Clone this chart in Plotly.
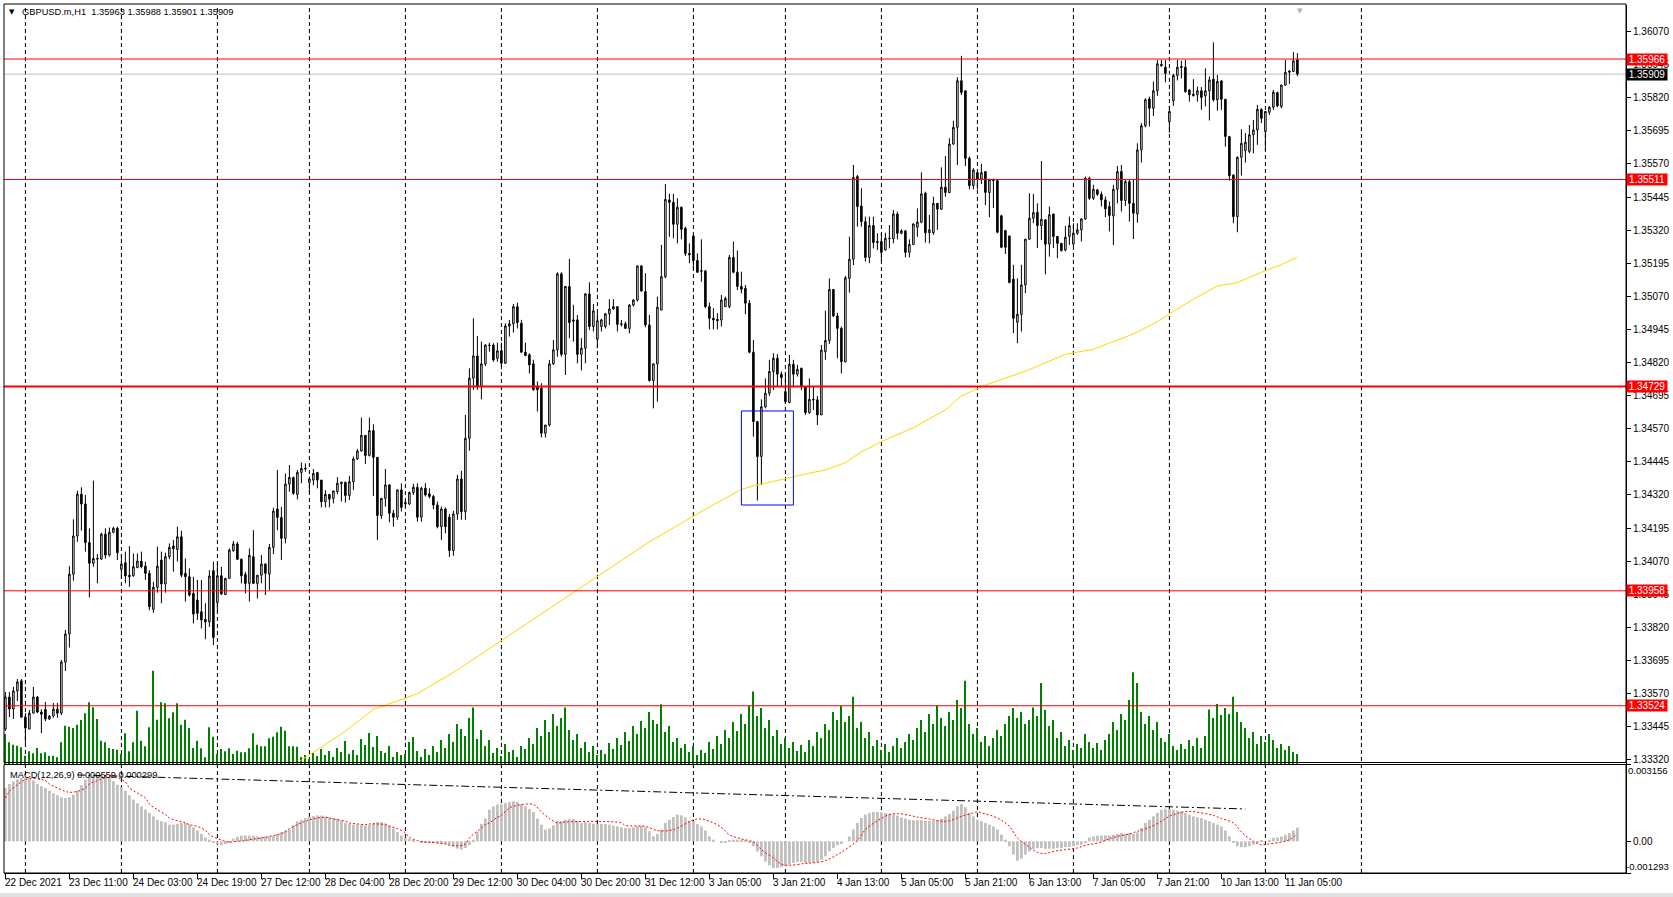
import plotly.graph_objects as go

# ---------------- data ----------------
opens = [
1.33436,1.33557,1.33512,1.33580,1.33618,1.33481,1.33436,1.33496,1.33557,1.33500,
1.33510,1.33474,1.33485,1.33511,1.33496,1.33689,1.33795,1.34021,1.34165,1.34323,
1.34286,1.34140,1.34062,1.34080,1.34078,1.34172,1.34093,1.34179,1.34194,1.34039,
1.34064,1.34017,1.34015,1.34046,1.34070,1.34051,1.34024,1.33888,1.33971,1.34074,
1.33984,1.34087,1.34127,1.34114,1.34162,1.34024,1.34011,1.33948,1.33923,1.33879,
1.33850,1.33841,1.34034,1.33914,1.34015,1.33944,1.34005,1.34109,1.34135,1.34077,
1.34020,1.33986,1.34087,1.33986,1.34017,1.34059,1.34021,1.34122,1.34267,1.34235,
1.34156,1.34361,1.34386,1.34322,1.34405,1.34418,1.34367,1.34376,1.34405,1.34376,
1.34294,1.34322,1.34307,1.34333,1.34362,1.34368,1.34318,1.34370,1.34456,1.34486,
1.34545,1.34469,1.34563,1.34462,1.34242,1.34307,1.34358,1.34251,1.34236,1.34339,
1.34286,1.34286,1.34329,1.34349,1.34236,1.34345,1.34324,1.34314,1.34282,1.34200,
1.34267,1.34236,1.34110,1.34248,1.34380,1.34257,1.34534,1.34761,1.34845,1.34729,
1.34815,1.34886,1.34886,1.34836,1.34865,1.34817,1.34958,1.34966,1.35031,1.34968,
1.34859,1.34849,1.34815,1.34729,1.34723,1.34553,1.34584,1.34815,1.34868,1.35155,
1.34851,1.35107,1.34981,1.34981,1.34851,1.34874,1.35079,1.34956,1.34908,1.34956,
1.34956,1.35004,1.35022,1.35031,1.34963,1.34966,1.34949,1.35037,1.35056,1.35185,
1.35088,1.34962,1.34752,1.34815,1.35018,1.35144,1.35434,1.35425,1.35342,1.35406,
1.35327,1.35232,1.35298,1.35205,1.35167,1.35166,1.35031,1.34987,1.34983,1.34981,
1.35031,1.35031,1.35217,1.35161,1.35107,1.35100,1.35044,1.34859,1.34597,1.34465,
1.34653,1.34704,1.34786,1.34836,1.34776,1.34710,1.34669,1.34813,1.34776,1.34798,
1.34729,1.34631,1.34681,1.34679,1.34622,1.34861,1.34903,1.35096,1.34996,1.34949,
1.34823,1.35138,1.35210,1.35522,1.35411,1.35352,1.35217,1.35337,1.35273,1.35277,
1.35245,1.35287,1.35287,1.35381,1.35308,1.35317,1.35236,1.35266,1.35331,1.35350,
1.35459,1.35310,1.35310,1.35421,1.35399,1.35482,1.35462,1.35645,1.35708,1.35884,
1.35846,1.35591,1.35488,1.35537,1.35512,1.35541,1.35462,1.35512,1.35507,1.35374,
1.35318,1.35298,1.35135,1.34972,1.35002,1.35113,1.35286,1.35365,1.35387,1.35337,
1.35359,1.35267,1.35381,1.35296,1.35270,1.35245,1.35296,1.35267,1.35308,1.35321,
1.35362,1.35516,1.35440,1.35472,1.35455,1.35434,1.35409,1.35374,1.35474,1.35541,
1.35432,1.35503,1.35421,1.35381,1.35623,1.35714,1.35815,1.35780,1.35846,1.35940,
1.35935,1.35730,1.35808,1.35904,1.35938,1.35935,1.35849,1.35833,1.35831,1.35846,
1.35827,1.35846,1.35890,1.35812,1.35883,1.35814,1.35673,1.35528,1.35371,1.35595,
1.35620,1.35617,1.35680,1.35698,1.35776,1.35692,1.35765,1.35784,1.35839,1.35787,
1.35868,1.35916,1.35919,1.35963]

highs = [
1.33576,1.33576,1.33595,1.33625,1.33625,1.33496,1.33508,1.33595,1.33561,1.33511,
1.33538,1.33489,1.33534,1.33534,1.33697,1.33810,1.34051,1.34228,1.34336,1.34349,
1.34320,1.34194,1.34374,1.34097,1.34177,1.34194,1.34197,1.34200,1.34200,1.34093,
1.34106,1.34127,1.34099,1.34099,1.34106,1.34068,1.34036,1.33992,1.34125,1.34106,
1.34102,1.34137,1.34150,1.34200,1.34185,1.34080,1.34043,1.34011,1.33999,1.33999,
1.33911,1.34036,1.34068,1.34062,1.34049,1.34005,1.34118,1.34146,1.34143,1.34080,
1.34030,1.34118,1.34187,1.34017,1.34093,1.34062,1.34135,1.34272,1.34414,1.34275,
1.34401,1.34433,1.34389,1.34414,1.34443,1.34439,1.34389,1.34418,1.34405,1.34376,
1.34338,1.34322,1.34335,1.34387,1.34370,1.34370,1.34392,1.34465,1.34494,1.34612,
1.34545,1.34612,1.34587,1.34462,1.34307,1.34418,1.34358,1.34263,1.34339,1.34364,
1.34301,1.34333,1.34362,1.34364,1.34351,1.34364,1.34345,1.34320,1.34295,1.34276,
1.34273,1.34248,1.34260,1.34396,1.34411,1.34622,1.34798,1.34987,1.34920,1.34899,
1.34889,1.34895,1.34893,1.34895,1.34895,1.34968,1.34981,1.35041,1.35046,1.34981,
1.34895,1.34855,1.34830,1.34748,1.34742,1.34584,1.34830,1.34905,1.35161,1.35161,
1.35109,1.35211,1.35038,1.34999,1.34912,1.35082,1.35123,1.35041,1.35009,1.34985,
1.35006,1.35059,1.35059,1.35031,1.34981,1.34975,1.35041,1.35059,1.35185,1.35185,
1.35157,1.35000,1.34815,1.35069,1.35264,1.35494,1.35457,1.35457,1.35440,1.35409,
1.35333,1.35270,1.35298,1.35232,1.35285,1.35170,1.35047,1.35025,1.35006,1.35075,
1.35069,1.35226,1.35277,1.35243,1.35163,1.35113,1.35056,1.34905,1.34597,1.34681,
1.34760,1.34830,1.34855,1.34852,1.34786,1.34779,1.34849,1.34830,1.34811,1.34801,
1.34729,1.34760,1.34729,1.34694,1.34886,1.35016,1.35138,1.35096,1.35008,1.34956,
1.35147,1.35295,1.35566,1.35528,1.35478,1.35371,1.35371,1.35371,1.35308,1.35308,
1.35310,1.35339,1.35396,1.35390,1.35323,1.35321,1.35285,1.35346,1.35402,1.35538,
1.35465,1.35377,1.35446,1.35421,1.35557,1.35600,1.35667,1.35733,1.35897,1.35978,
1.35846,1.35598,1.35554,1.35537,1.35570,1.35541,1.35512,1.35512,1.35507,1.35378,
1.35321,1.35298,1.35189,1.35138,1.35189,1.35286,1.35459,1.35457,1.35421,1.35581,
1.35359,1.35409,1.35381,1.35298,1.35270,1.35336,1.35371,1.35346,1.35346,1.35365,
1.35522,1.35522,1.35491,1.35474,1.35466,1.35447,1.35428,1.35491,1.35562,1.35566,
1.35510,1.35510,1.35510,1.35648,1.35724,1.35818,1.35824,1.35881,1.35963,1.35963,
1.35963,1.35789,1.35910,1.35963,1.35960,1.35963,1.35852,1.35890,1.35862,1.35860,
1.35931,1.35900,1.36029,1.35906,1.35887,1.35814,1.35676,1.35531,1.35598,1.35701,
1.35686,1.35717,1.35736,1.35793,1.35780,1.35770,1.35789,1.35849,1.35843,1.35868,
1.35963,1.35921,1.35992,1.35988]

lows = [
1.33429,1.33481,1.33474,1.33542,1.33478,1.33383,1.33436,1.33496,1.33496,1.33421,
1.33466,1.33470,1.33478,1.33478,1.33489,1.33655,1.33744,1.33996,1.34143,1.34185,
1.34106,1.33933,1.34049,1.33986,1.34074,1.34080,1.34087,1.34175,1.34074,1.34005,
1.33986,1.33973,1.34011,1.34043,1.34043,1.33999,1.33885,1.33875,1.33951,1.33911,
1.33951,1.34077,1.34030,1.34068,1.34009,1.33917,1.33936,1.33835,1.33848,1.33816,
1.33775,1.33822,1.33753,1.33879,1.33942,1.33942,1.34005,1.34106,1.34074,1.33986,
1.33948,1.33917,1.33986,1.33929,1.33986,1.33942,1.33961,1.34097,1.34187,1.34074,
1.34137,1.34332,1.34320,1.34303,1.34364,1.34408,1.34326,1.34357,1.34345,1.34273,
1.34273,1.34273,1.34288,1.34323,1.34295,1.34291,1.34301,1.34339,1.34452,1.34484,
1.34437,1.34465,1.34316,1.34150,1.34229,1.34276,1.34217,1.34200,1.34226,1.34257,
1.34276,1.34282,1.34320,1.34219,1.34219,1.34314,1.34307,1.34266,1.34194,1.34150,
1.34175,1.34086,1.34090,1.34226,1.34226,1.34226,1.34487,1.34717,1.34717,1.34681,
1.34807,1.34861,1.34823,1.34823,1.34805,1.34815,1.34918,1.34933,1.34949,1.34857,
1.34845,1.34779,1.34714,1.34635,1.34537,1.34537,1.34578,1.34811,1.34842,1.34842,
1.34773,1.34912,1.34899,1.34817,1.34790,1.34817,1.34943,1.34937,1.34874,1.34937,
1.34949,1.34962,1.35019,1.34937,1.34956,1.34947,1.34930,1.35031,1.35050,1.35088,
1.34953,1.34748,1.34647,1.34672,1.35018,1.35138,1.35295,1.35289,1.35270,1.35285,
1.35222,1.35195,1.35170,1.35159,1.35125,1.35025,1.34945,1.34945,1.34945,1.34956,
1.35031,1.35025,1.35157,1.35094,1.35081,1.35003,1.34855,1.34540,1.34299,1.34358,
1.34647,1.34694,1.34716,1.34729,1.34729,1.34666,1.34666,1.34726,1.34767,1.34716,
1.34622,1.34626,1.34641,1.34584,1.34622,1.34830,1.34890,1.34991,1.34836,1.34779,
1.34820,1.35084,1.35188,1.35333,1.35333,1.35201,1.35195,1.35251,1.35245,1.35205,
1.35243,1.35251,1.35270,1.35285,1.35304,1.35217,1.35217,1.35264,1.35295,1.35346,
1.35273,1.35270,1.35302,1.35321,1.35396,1.35446,1.35459,1.35642,1.35566,1.35830,
1.35562,1.35474,1.35474,1.35474,1.35494,1.35415,1.35369,1.35403,1.35308,1.35252,
1.35230,1.35119,1.34931,1.34893,1.34937,1.35082,1.35283,1.35346,1.35252,1.35283,
1.35153,1.35220,1.35252,1.35214,1.35239,1.35239,1.35264,1.35260,1.35302,1.35277,
1.35359,1.35434,1.35434,1.35449,1.35409,1.35369,1.35315,1.35264,1.35421,1.35390,
1.35411,1.35352,1.35286,1.35348,1.35575,1.35708,1.35711,1.35751,1.35827,1.35938,
1.35878,1.35688,1.35789,1.35885,1.35893,1.35839,1.35805,1.35824,1.35805,1.35774,
1.35787,1.35734,1.35805,1.35771,1.35774,1.35635,1.35507,1.35346,1.35312,1.35526,
1.35575,1.35610,1.35610,1.35642,1.35724,1.35623,1.35755,1.35774,1.35784,1.35780,
1.35865,1.35872,1.35919,1.35901]

closes = [
1.33557,1.33512,1.33580,1.33614,1.33481,1.33440,1.33496,1.33557,1.33500,1.33492,
1.33474,1.33485,1.33511,1.33496,1.33689,1.33795,1.34021,1.34165,1.34323,1.34286,
1.34140,1.34062,1.34080,1.34078,1.34172,1.34093,1.34179,1.34194,1.34102,1.34059,
1.34014,1.34011,1.34049,1.34070,1.34049,1.34024,1.33898,1.33971,1.34051,1.33984,
1.34087,1.34122,1.34117,1.34162,1.34017,1.34011,1.33942,1.33870,1.33873,1.33848,
1.33841,1.34014,1.33782,1.34015,1.33946,1.34005,1.34112,1.34135,1.34077,1.34015,
1.33986,1.34092,1.33986,1.34017,1.34059,1.34024,1.34122,1.34259,1.34235,1.34156,
1.34361,1.34386,1.34326,1.34405,1.34420,1.34420,1.34380,1.34401,1.34376,1.34294,
1.34322,1.34304,1.34335,1.34364,1.34368,1.34318,1.34370,1.34456,1.34486,1.34545,
1.34469,1.34563,1.34462,1.34242,1.34307,1.34358,1.34251,1.34236,1.34339,1.34273,
1.34291,1.34329,1.34349,1.34236,1.34345,1.34320,1.34314,1.34282,1.34200,1.34267,
1.34200,1.34110,1.34248,1.34380,1.34257,1.34534,1.34761,1.34845,1.34729,1.34815,
1.34886,1.34884,1.34830,1.34864,1.34817,1.34958,1.34966,1.35031,1.34971,1.34859,
1.34846,1.34811,1.34717,1.34717,1.34553,1.34584,1.34815,1.34868,1.35155,1.34851,
1.35107,1.34971,1.34977,1.34851,1.34874,1.35079,1.34956,1.35015,1.34978,1.34981,
1.35004,1.35022,1.35031,1.34964,1.34966,1.34949,1.35037,1.35056,1.35185,1.35090,
1.34962,1.34752,1.34815,1.35029,1.35144,1.35436,1.35425,1.35342,1.35406,1.35323,
1.35232,1.35226,1.35205,1.35161,1.35165,1.35031,1.34987,1.34981,1.34978,1.35056,
1.35062,1.35217,1.35161,1.35107,1.35097,1.35044,1.34859,1.34597,1.34465,1.34653,
1.34704,1.34786,1.34836,1.34776,1.34763,1.34672,1.34813,1.34776,1.34794,1.34729,
1.34631,1.34681,1.34679,1.34622,1.34867,1.34903,1.35096,1.34996,1.34949,1.34823,
1.35140,1.35210,1.35519,1.35409,1.35352,1.35217,1.35337,1.35273,1.35277,1.35236,
1.35289,1.35289,1.35381,1.35308,1.35317,1.35236,1.35266,1.35343,1.35350,1.35457,
1.35310,1.35321,1.35421,1.35399,1.35482,1.35462,1.35645,1.35708,1.35884,1.35840,
1.35591,1.35488,1.35547,1.35512,1.35537,1.35462,1.35512,1.35507,1.35312,1.35255,
1.35255,1.35122,1.34987,1.35002,1.35113,1.35286,1.35365,1.35386,1.35337,1.35361,
1.35267,1.35378,1.35296,1.35270,1.35243,1.35293,1.35337,1.35308,1.35321,1.35362,
1.35516,1.35440,1.35474,1.35455,1.35434,1.35400,1.35375,1.35474,1.35541,1.35432,
1.35503,1.35421,1.35384,1.35623,1.35714,1.35812,1.35780,1.35846,1.35948,1.35946,
1.35912,1.35768,1.35904,1.35935,1.35934,1.35843,1.35831,1.35828,1.35846,1.35821,
1.35846,1.35887,1.35812,1.35881,1.35814,1.35673,1.35526,1.35371,1.35595,1.35648,
1.35652,1.35680,1.35698,1.35776,1.35742,1.35768,1.35784,1.35841,1.35789,1.35868,
1.35916,1.35921,1.35959,1.35909]

volumes = [
1200,870,770,730,670,330,510,430,640,430,
470,330,330,270,870,1530,1490,1440,1570,1760,
2030,2470,2270,1800,930,870,640,600,570,400,
1230,510,870,2130,930,710,1470,3730,1770,2470,
2430,1830,2070,2430,1570,1770,1440,640,930,630,
270,1470,1090,400,600,510,630,400,530,470,
470,630,1230,770,710,710,1030,1090,1270,1490,
1330,710,710,690,280,360,200,440,320,600,
360,520,280,640,480,920,400,560,360,1000,
760,1240,680,1120,520,440,720,280,480,360,
400,880,1080,520,280,600,360,720,480,960,
640,1200,880,1600,1400,1120,1840,2260,1000,1360,
720,960,440,640,320,800,480,560,280,720,
600,1040,800,1440,1120,1760,1280,2000,1520,1840,
2260,1360,960,1200,640,880,480,720,360,560,
400,840,600,1040,760,1280,920,1520,1200,1720,
1440,2080,1760,1600,2390,1280,1520,880,1040,640,
800,480,720,360,560,440,880,600,1120,800,
1360,1040,1680,1320,2000,1600,2320,2900,1920,2240,
1440,1760,1120,1360,800,1040,640,880,520,760,
480,960,720,1280,1040,1600,1360,2080,1760,2320,
1680,1920,2690,1440,1680,1040,1280,720,960,560,
800,480,720,1040,640,880,1200,960,1440,1760,
1280,2000,1600,2350,1840,1520,2080,1760,2560,2240,
3330,1600,1200,1440,880,1120,720,1040,1360,1120,
1600,1920,2240,1840,2080,1600,1760,2260,1920,3240,
2160,1520,1760,1040,1280,720,960,560,800,640,
1200,880,640,840,560,960,1200,1680,1360,2000,
1760,2560,3670,3240,2080,1600,1920,1360,1680,1040,
880,1200,720,560,800,600,960,720,1040,640,
1120,2180,1840,2400,1960,2240,2000,2690,2080,1680,
1440,1040,1280,800,1120,880,1200,960,640,800,
560,720,480,400]

macd_main = [
0.00218,0.00234,0.00245,0.00253,0.00259,0.00259,0.00256,0.00248,0.00234,0.00225,
0.00218,0.00207,0.00196,0.00188,0.00180,0.00177,0.00180,0.00190,0.00207,0.00229,
0.00252,0.00265,0.00269,0.00269,0.00269,0.00267,0.00259,0.00245,0.00231,0.00220,
0.00207,0.00188,0.00170,0.00155,0.00143,0.00129,0.00116,0.00102,0.00088,0.00082,
0.00078,0.00068,0.00068,0.00071,0.00075,0.00075,0.00068,0.00057,0.00044,0.00030,
0.00016,0.00007,-0.00003,-0.00011,-0.00016,-0.00011,-0.00003,0.00011,0.00019,0.00023,
0.00024,0.00023,0.00022,0.00020,0.00019,0.00020,0.00020,0.00022,0.00030,0.00038,
0.00045,0.00048,0.00065,0.00082,0.00088,0.00095,0.00101,0.00103,0.00106,0.00105,
0.00101,0.00098,0.00095,0.00093,0.00084,0.00075,0.00071,0.00068,0.00068,0.00068,
0.00065,0.00068,0.00072,0.00078,0.00078,0.00073,0.00065,0.00052,0.00038,0.00024,
0.00014,0.00010,0.00005,0.00000,-0.00003,-0.00003,-0.00003,-0.00004,-0.00007,-0.00008,
-0.00011,-0.00014,-0.00020,-0.00030,-0.00034,-0.00027,-0.00016,0.00007,0.00038,0.00071,
0.00093,0.00129,0.00143,0.00150,0.00152,0.00156,0.00161,0.00163,0.00161,0.00152,
0.00143,0.00132,0.00120,0.00093,0.00068,0.00048,0.00052,0.00065,0.00082,0.00082,
0.00088,0.00090,0.00091,0.00082,0.00075,0.00078,0.00075,0.00072,0.00071,0.00072,
0.00071,0.00068,0.00064,0.00061,0.00057,0.00054,0.00054,0.00057,0.00061,0.00064,
0.00057,0.00041,0.00020,0.00030,0.00048,0.00075,0.00088,0.00099,0.00109,0.00106,
0.00098,0.00084,0.00082,0.00071,0.00061,0.00044,0.00020,0.00007,0.00000,-0.00003,
-0.00003,0.00003,0.00007,0.00007,0.00007,0.00003,-0.00003,-0.00020,-0.00041,-0.00061,
-0.00082,-0.00098,-0.00109,-0.00109,-0.00105,-0.00102,-0.00095,-0.00088,-0.00084,-0.00084,
-0.00088,-0.00088,-0.00088,-0.00084,-0.00075,-0.00061,-0.00041,-0.00027,-0.00016,-0.00011,
0.00000,0.00020,0.00048,0.00075,0.00095,0.00109,0.00116,0.00120,0.00120,0.00118,
0.00116,0.00113,0.00109,0.00105,0.00098,0.00093,0.00088,0.00086,0.00086,0.00086,
0.00084,0.00084,0.00084,0.00086,0.00093,0.00102,0.00112,0.00125,0.00143,0.00152,
0.00139,0.00116,0.00102,0.00088,0.00082,0.00075,0.00068,0.00061,0.00048,0.00027,
0.00007,-0.00020,-0.00054,-0.00079,-0.00071,-0.00054,-0.00041,-0.00031,-0.00027,-0.00027,
-0.00031,-0.00030,-0.00030,-0.00027,-0.00027,-0.00024,-0.00023,-0.00020,-0.00016,-0.00014,
-0.00003,0.00016,0.00020,0.00023,0.00024,0.00024,0.00024,0.00027,0.00030,0.00034,
0.00031,0.00034,0.00031,0.00037,0.00054,0.00075,0.00088,0.00102,0.00116,0.00129,
0.00133,0.00132,0.00129,0.00125,0.00122,0.00116,0.00109,0.00102,0.00098,0.00095,
0.00088,0.00082,0.00075,0.00068,0.00061,0.00044,0.00020,-0.00003,-0.00020,-0.00024,
-0.00024,-0.00020,-0.00014,-0.00003,0.00003,0.00000,0.00007,0.00014,0.00016,0.00020,
0.00027,0.00034,0.00044,0.00056]

signal_bar = [0,1,3,5,6,8,10,11,13,15,16,18,20,21,23,25,26,28,30,31,33,35,36,38,40,41,43,45,46,48,
50,51,53,55,56,58,60,61,63,65,66,68,70,71,73,75,76,78,80,81,83,85,86,88,90,91,93,95,96,98,
100,101,103,105,106,108,110,111,113,115,116,118,120,121,123,124,126,128,132,134,136,138,140,154,155,
160,163,166,168,172,174,176,179,181,184,187,189,192,194,196,200,202,205,208,210,213,215,218,221,223,
226,228,231,234,236,239,242,243,245,248,251,253,256,258,260,262,265,268,270,273,276,278,281,283,286,
289,291,294,296,299,302,304,307,309,312,314,316,319,321,323]
signal_val = [0.00177,0.00204,0.00231,0.00252,0.00256,0.00256,0.00248,0.00234,0.00218,0.00204,
0.00200,0.00204,0.00218,0.00234,0.00248,0.00259,0.00261,0.00259,0.00242,0.00218,
0.00197,0.00177,0.00152,0.00129,0.00109,0.00095,0.00084,0.00075,0.00068,0.00061,
0.00044,0.00027,0.00011,0.00000,-0.00003,0.00000,0.00003,0.00007,0.00011,0.00016,
0.00020,0.00027,0.00038,0.00052,0.00068,0.00082,0.00088,0.00095,0.00098,0.00095,
0.00088,0.00082,0.00075,0.00071,0.00068,0.00071,0.00071,0.00068,0.00061,0.00052,
0.00034,0.00016,0.00003,-0.00003,-0.00004,-0.00007,-0.00011,-0.00016,-0.00018,-0.00011,
0.00014,0.00041,0.00068,0.00075,0.00098,0.00106,0.00136,0.00147,0.00150,0.00120,
0.00093,0.00075,0.00079,0.00075,0.00065,
0.00061,0.00044,0.00044,0.00054,0.00088,0.00091,0.00082,0.00057,0.00027,0.00010,
-0.00003,-0.00034,-0.00068,-0.00093,-0.00098,-0.00090,-0.00088,-0.00079,-0.00054,-0.00034,
0.00003,0.00048,0.00084,0.00109,0.00113,0.00106,0.00099,0.00091,0.00082,0.00084,
0.00102,0.00116,0.00120,0.00112,0.00095,0.00061,0.00014,-0.00024,-0.00045,-0.00050,
-0.00041,-0.00034,-0.00027,-0.00016,-0.00007,0.00010,0.00020,0.00030,0.00041,0.00057,
0.00082,0.00102,0.00118,0.00122,0.00116,0.00106,0.00093,0.00075,0.00038,0.00000,
-0.00014,-0.00010,-0.00003,0.00007,0.00030]

ma_bar = [70,74,84,92,103,113,135,148,161,175,184,187,195,200,205,210,214,219,227,235,239,245,
          255,265,272,282,287,291,297,303,308,315,319,323]
ma_val = [1.33280,1.33320,1.33417,1.33510,1.33569,1.33659,1.33881,1.34014,1.34143,1.34266,
          1.34341,1.34354,1.34383,1.34399,1.34414,1.34442,1.34483,1.34521,1.34574,1.34641,
          1.34694,1.34735,1.34787,1.34851,1.34870,1.34928,1.34966,1.35004,1.35059,1.35109,
          1.35122,1.35167,1.35189,1.35218]

trend_bar = [18, 310]
trend_val = [0.00271, 0.00132]

level_prices = [1.35966, 1.35511, 1.34729, 1.33958, 1.33524]
level_widths = [1, 1, 2, 1, 1]
bid_price = 1.35909

box_bars = [184, 197]
box_prices = [1.34282, 1.34637]

grid_bars = [5, 29, 53, 76, 100, 124, 148, 172, 195, 219, 243, 267, 291, 315, 339]

time_label_bars = [0, 16, 32, 48, 64, 80, 96, 112, 128, 144, 160, 176, 192, 208, 224, 240, 256, 272, 288, 304, 320]
time_labels = ["22 Dec 2021", "23 Dec 11:00", "24 Dec 03:00", "24 Dec 19:00", "27 Dec 12:00",
               "28 Dec 04:00", "28 Dec 20:00", "29 Dec 12:00", "30 Dec 04:00", "30 Dec 20:00",
               "31 Dec 12:00", "3 Jan 05:00", "3 Jan 21:00", "4 Jan 13:00", "5 Jan 05:00",
               "5 Jan 21:00", "6 Jan 13:00", "7 Jan 05:00", "7 Jan 21:00", "10 Jan 13:00", "11 Jan 05:00"]

price_ticks = [1.36070, 1.35945, 1.35820, 1.35695, 1.35570, 1.35445, 1.35320, 1.35195, 1.35070,
               1.34945, 1.34820, 1.34695, 1.34570, 1.34445, 1.34320, 1.34195, 1.34070, 1.33945,
               1.33820, 1.33695, 1.33570, 1.33445, 1.33320]
macd_top, macd_bottom = 0.003156, -0.001293

title_text = "GBPUSD.m,H1  1.35963 1.35988 1.35901 1.35909"
macd_text = "MACD(12,26,9) 0.000559 0.000299"

# ---------------- layout constants ----------------
W, H = 1673, 897
ML, MR, MT, MB = 4, 47, 5, 24
PW = W - ML - MR
PH = H - MT - MB
SPLIT = 109 / PH
FONT = "Liberation Sans"
bars = list(range(len(closes)))

fig = go.Figure()

fig.add_trace(go.Bar(x=bars, y=volumes, xaxis="x", yaxis="y", width=0.25,
                     marker=dict(color="#008000", line=dict(width=0)), hoverinfo="skip"))
fig.add_trace(go.Candlestick(x=bars, open=opens, high=highs, low=lows, close=closes,
                             xaxis="x", yaxis="y3", whiskerwidth=0,
                             increasing=dict(line=dict(color="black", width=1), fillcolor="white"),
                             decreasing=dict(line=dict(color="black", width=1), fillcolor="black"),
                             hoverinfo="skip"))
fig.add_trace(go.Scatter(x=ma_bar, y=ma_val, xaxis="x", yaxis="y3", mode="lines",
                         line=dict(color="#FFD700", width=1), hoverinfo="skip"))
fig.add_trace(go.Bar(x=bars, y=macd_main, xaxis="x", yaxis="y2", width=0.7,
                     marker=dict(color="#C0C0C0", line=dict(width=0)), hoverinfo="skip"))
fig.add_trace(go.Scatter(x=signal_bar, y=signal_val, xaxis="x", yaxis="y2", mode="lines",
                         line=dict(color="red", width=1, dash="2px,2px", shape="spline"), hoverinfo="skip"))
fig.add_trace(go.Scatter(x=trend_bar, y=trend_val, xaxis="x", yaxis="y2", mode="lines",
                         line=dict(color="black", width=1, dash="8px,3px,2px,3px"), hoverinfo="skip"))

shapes = []
for gb in grid_bars:
    shapes.append(dict(type="line", xref="x", yref="paper", x0=gb, x1=gb, y0=0, y1=1,
                       line=dict(color="black", width=1, dash="4px,3px"), layer="below"))
shapes.append(dict(type="line", xref="paper", yref="y3", x0=0, x1=1, y0=bid_price, y1=bid_price,
                   line=dict(color="#C0C0C0", width=1), layer="below"))
for lp, lw in zip(level_prices, level_widths):
    shapes.append(dict(type="line", xref="paper", yref="y3", x0=0, x1=1, y0=lp, y1=lp,
                       line=dict(color="red", width=lw), layer="above"))
shapes.append(dict(type="rect", xref="x", yref="y3", x0=box_bars[0], x1=box_bars[1],
                   y0=box_prices[0], y1=box_prices[1], line=dict(color="#0000FF", width=1),
                   fillcolor="rgba(0,0,0,0)", layer="above"))
# panel frames
shapes.append(dict(type="rect", xref="paper", yref="paper", x0=0, x1=1, y0=SPLIT + 1.5 / PH, y1=1 + 1 / PH,
                   line=dict(color="black", width=1), fillcolor="rgba(0,0,0,0)", layer="above"))
shapes.append(dict(type="rect", xref="paper", yref="paper", x0=0, x1=1, y0=0, y1=SPLIT - 0.5 / PH,
                   line=dict(color="black", width=1), fillcolor="rgba(0,0,0,0)", layer="above"))
# window strip at bottom
shapes.append(dict(type="rect", xref="paper", yref="paper", x0=-ML / PW, x1=1 + MR / PW,
                   y0=-(MB) / PH, y1=-(MB - 4) / PH, line=dict(width=0), fillcolor="#E0E0E0", layer="above"))

annotations = []
for tb, tl in zip(time_label_bars, time_labels):
    annotations.append(dict(x=tb, y=-10 / PH, xref="x", yref="paper", text=tl, showarrow=False,
                            xanchor="left", yanchor="middle", xshift=-2,
                            font=dict(family=FONT, size=10, color="black")))

def price_label(price, bg):
    return dict(x=1, y=price, xref="paper", yref="y3", text=f"{price:.5f}", showarrow=False,
                xanchor="left", yanchor="middle", bgcolor=bg, borderpad=0, width=40, height=11,
                font=dict(family=FONT, size=10, color="white"))

annotations.append(price_label(bid_price, "black"))
for lp in level_prices:
    annotations.append(price_label(lp, "#FF0000"))

annotations.append(dict(x=1, y=1, xref="paper", yref="y2 domain", text=f"{macd_top:.6f}", showarrow=False,
                        xanchor="left", yanchor="top", xshift=0, yshift=1,
                        font=dict(family=FONT, size=9.5, color="black")))
annotations.append(dict(x=1, y=0, xref="paper", yref="y2 domain", text=f"{macd_bottom:.6f}", showarrow=False,
                        xanchor="left", yanchor="bottom", xshift=-2, yshift=-1,
                        font=dict(family=FONT, size=9.5, color="black")))
annotations.append(dict(x=8 / PW, y=1 - 7 / PH, xref="paper", yref="paper", text="▼", showarrow=False,
                        xanchor="center", yanchor="middle", font=dict(family="DejaVu Sans", size=7, color="black")))
annotations.append(dict(x=16 / PW, y=1 - 7 / PH, xref="paper", yref="paper", text=title_text, showarrow=False,
                        xanchor="left", yanchor="middle", font=dict(family=FONT, size=9.3, color="black")))
annotations.append(dict(x=4 / PW, y=SPLIT - 11 / PH, xref="paper", yref="paper", text=macd_text, showarrow=False,
                        xanchor="left", yanchor="middle", font=dict(family=FONT, size=9.3, color="black")))
annotations.append(dict(x=323.6, y=1, xref="x", yref="paper", text="▼", showarrow=False,
                        xanchor="center", yanchor="top", font=dict(family="DejaVu Sans", size=7, color="#B0B0B0")))

fig.update_layout(
    width=W, height=H, margin=dict(l=ML, r=MR, t=MT, b=MB, autoexpand=False),
    paper_bgcolor="white", plot_bgcolor="white", showlegend=False,
    barmode="overlay", boxgap=0.45, hovermode=False,
    xaxis=dict(domain=[0, 1], range=[-0.35, 405.15], anchor="y2", showgrid=False, zeroline=False,
               tickmode="array", tickvals=time_label_bars, showticklabels=False,
               ticks="outside", ticklen=5, tickcolor="black", showline=True, linecolor="black",
               rangeslider=dict(visible=False), fixedrange=True),
    yaxis=dict(domain=[SPLIT, 1], range=[0, 30360], visible=False, fixedrange=True),
    yaxis3=dict(overlaying="y", anchor="x", side="right", range=[1.33304, 1.36170],
                tickmode="array", tickvals=price_ticks, tickformat=".5f",
                ticks="outside", ticklen=4, tickcolor="black", showline=True, linecolor="black",
                showgrid=False, zeroline=False, tickfont=dict(family=FONT, size=10, color="black")),
    yaxis2=dict(domain=[0, SPLIT], anchor="x", side="right", range=[macd_bottom, macd_top],
                tickmode="array", tickvals=[macd_top, 0, macd_bottom], ticktext=["", "0.00", ""],
                ticks="outside", ticklen=4, tickcolor="black", showline=True, linecolor="black",
                showgrid=False, zeroline=False, tickfont=dict(family=FONT, size=10, color="black")),
    shapes=shapes, annotations=annotations,
)

fig.write_html("out.html", config={"displayModeBar": False},
               post_script="document.body.style.margin='0px';document.body.style.padding='0px';"
                           "document.body.style.overflow='hidden';")
